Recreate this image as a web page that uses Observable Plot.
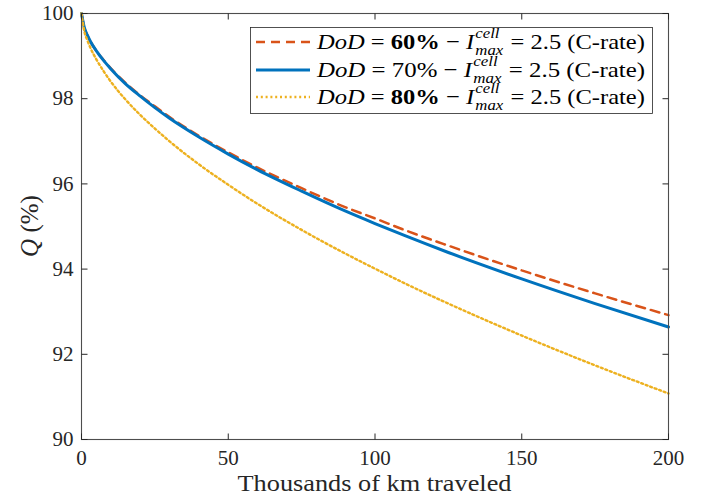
<!DOCTYPE html>
<html>
<head>
<meta charset="utf-8">
<script src="https://cdn.jsdelivr.net/npm/d3@7"></script>
<script src="https://cdn.jsdelivr.net/npm/@observablehq/plot@0.6"></script>
<style>
  html, body { margin: 0; padding: 0; background: #fff; }
  svg { display: block; }
</style>
</head>
<body>
<script>
// Thousands of km traveled
const xKm = [0, 1, 2, 3, 5, 7.5, 10, 15, 20, 25, 30, 40, 50, 60, 75, 90, 100, 110, 125, 150, 175, 200];
// Capacity Q (%) for each DoD
const q60 = [100, 99.66, 99.49, 99.35, 99.13, 98.91, 98.71, 98.37, 98.08, 97.82, 97.57, 97.13, 96.74, 96.38, 95.90, 95.45, 95.19, 94.92, 94.55, 93.97, 93.43, 92.92];
const q70 = [100, 99.66, 99.49, 99.35, 99.13, 98.90, 98.70, 98.35, 98.06, 97.79, 97.54, 97.10, 96.70, 96.33, 95.83, 95.36, 95.07, 94.79, 94.39, 93.77, 93.19, 92.64];
const q80 = [100, 99.57, 99.37, 99.20, 98.93, 98.65, 98.40, 97.98, 97.62, 97.30, 97.00, 96.46, 95.98, 95.53, 94.92, 94.36, 94.01, 93.67, 93.19, 92.44, 91.74, 91.08];
const dodLabels = ["60%", "70%", "80%"];
const dodBold = [true, false, true];
const xTicks = [0, 50, 100, 150, 200];
const yTicks = [90, 92, 94, 96, 98, 100];
const xLabel = "Thousands of km traveled";

const colors = ["#D95319", "#0072BD", "#EDB120"];
const widths = [2.5, 3, 2.4];
const dashes = ["9,6", null, "2,2.8"];

const W = 705, H = 497;
const mL = 81, mR = 37, mT = 13, mB = 58;
const innerW = W - mL - mR, innerH = H - mT - mB;
const xMin = 0, xMax = 200, yMin = 90, yMax = 100;
// inward tick length (6px) expressed in data units of the fixed domains
const tx = 6 * (xMax - xMin) / innerW, ty = 6 * (yMax - yMin) / innerH;
const axisColor = "#262626";
const font = "'Liberation Serif', 'DejaVu Serif', serif";

const series = [q60, q70, q80].map(qs => xKm.map((x, i) => ({x, q: qs[i]})));
const xTickRows = xTicks.map(v => ({v}));
const yTickRows = yTicks.map(v => ({v}));

const chart = Plot.plot({
  width: W, height: H,
  marginLeft: mL, marginRight: mR, marginTop: mT, marginBottom: mB,
  style: {fontFamily: font, fontSize: "21px", background: "white", color: axisColor},
  x: {domain: [xMin, xMax]},
  y: {domain: [yMin, yMax]},
  marks: [
    ...series.map((d, i) => Plot.line(d, {
      x: "x", y: "q", stroke: colors[i], strokeWidth: widths[i],
      strokeDasharray: dashes[i], curve: "monotone-x"
    })),
    Plot.frame({stroke: "#4d4d4d", strokeWidth: 1.1}),
    Plot.link(xTickRows, {x1: "v", x2: "v", y1: () => yMin, y2: () => yMin + ty, stroke: axisColor, strokeWidth: 1}),
    Plot.link(xTickRows, {x1: "v", x2: "v", y1: () => yMax, y2: () => yMax - ty, stroke: axisColor, strokeWidth: 1}),
    Plot.link(yTickRows, {y1: "v", y2: "v", x1: () => xMin, x2: () => xMin + tx, stroke: axisColor, strokeWidth: 1}),
    Plot.link(yTickRows, {y1: "v", y2: "v", x1: () => xMax, x2: () => xMax - tx, stroke: axisColor, strokeWidth: 1}),
    Plot.axisX({ticks: xTicks, tickSize: 0, tickPadding: 11, label: null, fontSize: 21, fill: axisColor}),
    Plot.axisY({ticks: yTicks, tickSize: 0, tickPadding: 8, label: null, fontSize: 21, fill: axisColor})
  ]
});
document.body.appendChild(chart);

const svg = d3.select(chart);

// X axis label
svg.append("text")
  .attr("x", mL + innerW / 2).attr("y", 491)
  .attr("text-anchor", "middle")
  .attr("font-family", font).attr("font-size", 23)
  .attr("textLength", 274).attr("lengthAdjust", "spacingAndGlyphs")
  .attr("fill", axisColor)
  .text(xLabel);

// Y axis label
const yl = svg.append("text")
  .attr("transform", "translate(38,226) rotate(-90)")
  .attr("text-anchor", "middle")
  .attr("font-family", font).attr("font-size", 25)
  .attr("fill", axisColor);
yl.append("tspan").attr("font-style", "italic").text("Q");
yl.append("tspan").text(" (%)");

// Legend
const lg = svg.append("g").attr("text-anchor", "start");
lg.append("rect")
  .attr("x", 250.5).attr("y", 27.5).attr("width", 402).attr("height", 86)
  .attr("fill", "white").attr("stroke", axisColor).attr("stroke-width", 0.8);
const rowY = [42, 70, 97];
const textX0 = 317, textX1 = 645;
dodLabels.forEach((lab, i) => {
  const y = rowY[i];
  lg.append("line")
    .attr("x1", 256).attr("x2", 310).attr("y1", y).attr("y2", y)
    .attr("stroke", colors[i]).attr("stroke-width", widths[i])
    .attr("stroke-dasharray", dashes[i]);
  const row = lg.append("g");
  const base = y + 7;
  const t1 = row.append("text").attr("x", 0).attr("y", base)
    .attr("text-anchor", "start")
    .attr("font-family", font).attr("font-size", 22).attr("fill", "#000");
  t1.append("tspan").attr("font-style", "italic").text("DoD");
  t1.append("tspan").text(" = ");
  t1.append("tspan").attr("font-weight", dodBold[i] ? "bold" : "normal").text(lab);
  t1.append("tspan").text(" \u2212 ");
  t1.append("tspan").attr("font-style", "italic").text("I");
  const w1 = t1.node().getComputedTextLength();
  const sup = row.append("text").attr("x", w1 + 1).attr("y", base - 11)
    .attr("text-anchor", "start")
    .attr("font-family", font).attr("font-size", 15).attr("font-style", "italic").attr("fill", "#000")
    .text("cell");
  const sub = row.append("text").attr("x", w1 + 1).attr("y", base + 6)
    .attr("text-anchor", "start")
    .attr("font-family", font).attr("font-size", 15).attr("font-style", "italic").attr("fill", "#000")
    .text("max");
  const w2 = Math.max(sup.node().getComputedTextLength(), sub.node().getComputedTextLength());
  const t3 = row.append("text").attr("x", w1 + w2 + 2).attr("y", base)
    .attr("text-anchor", "start")
    .attr("font-family", font).attr("font-size", 22).attr("fill", "#000")
    .text("\u00a0= 2.5 (C-rate)");
  const total = w1 + w2 + 2 + t3.node().getComputedTextLength();
  const sx = (textX1 - textX0) / total;
  row.attr("transform", `translate(${textX0},0) scale(${sx},1)`);
});
</script>
</body>
</html>
